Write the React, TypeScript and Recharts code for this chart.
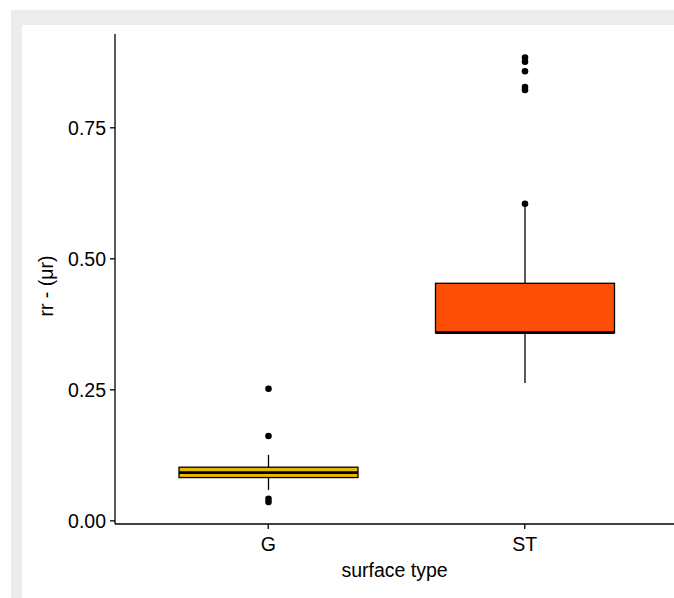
import React from 'react';
import { ComposedChart, Bar, XAxis, YAxis } from 'recharts';

// ---- data ----
const categories = ['G', 'ST'];
const whiskerLow = [0.059, 0.263];
const q1 = [0.0826, 0.359];
const median = [0.0921, 0.359];
const q3 = [0.1024, 0.4533];
const whiskerHigh = [0.126, 0.603];
const outliersG = [0.252, 0.162, 0.042, 0.036];
const outliersST = [0.884, 0.876, 0.858, 0.828, 0.822, 0.605];
const fills = ['#E7B800', '#FC4E07'];
const yTicks = [0, 0.25, 0.5, 0.75];

const outliers = [outliersG, outliersST];

const rows = categories.map((cat, i) => ({
  cat,
  range: [whiskerLow[i], whiskerHigh[i]],
  low: whiskerLow[i],
  q1: q1[i],
  median: median[i],
  q3: q3[i],
  high: whiskerHigh[i],
  outliers: outliers[i],
  fill: fills[i],
}));

const FONT = '"Liberation Sans", Arial, sans-serif';

const BoxShape = (props: any) => {
  const { x, y, width, height, payload } = props;
  const top = Math.min(y, y + height);
  const bottom = Math.max(y, y + height);
  const { low, high } = payload;
  const px = (v: number) => bottom - ((v - low) / (high - low)) * (bottom - top);
  const cx = x + width / 2;
  return (
    <g>
      <line x1={cx} x2={cx} y1={px(high)} y2={px(payload.q3)} stroke="#000" strokeWidth={1.3} />
      <line x1={cx} x2={cx} y1={px(payload.q1)} y2={px(low)} stroke="#000" strokeWidth={1.3} />
      <rect
        x={x}
        y={px(payload.q3)}
        width={width}
        height={px(payload.q1) - px(payload.q3)}
        fill={payload.fill}
        stroke="#000"
        strokeWidth={1.3}
      />
      <line x1={x} x2={x + width} y1={px(payload.median)} y2={px(payload.median)} stroke="#000" strokeWidth={2.8} />
      {payload.outliers.map((v: number, i: number) => (
        <circle key={i} cx={cx} cy={px(v)} r={3.3} fill="#000" />
      ))}
    </g>
  );
};

const YLabel = (props: any) => {
  const vb = props.viewBox || { x: 0, y: 34, width: 115, height: 490 };
  const lx = vb.x + 53;
  const ly = vb.y + vb.height / 2 + 7;
  return (
    <text
      x={lx}
      y={ly}
      transform={`rotate(-90 ${lx} ${ly})`}
      textAnchor="middle"
      fontSize={19.5}
      fontFamily={FONT}
      fill="#000"
    >
      rr - (μr)
    </text>
  );
};

export default function App() {
  return (
    <div>
      <div style={{ position: 'absolute', left: 11, top: 10, width: 663, height: 588, background: '#ececec' }} />
      <div style={{ position: 'absolute', left: 22, top: 25, width: 652, height: 573, background: '#ffffff' }} />
      <div style={{ position: 'absolute', left: 0, top: 0, width: 674, height: 598, fontFamily: FONT }}>
        <ComposedChart
          width={674}
          height={598}
          data={rows}
          margin={{ top: 34, right: 0, bottom: 0, left: 0 }}
        >
          <XAxis
            dataKey="cat"
            type="category"
            height={74}
            padding={{ left: 25, right: 21 }}
            axisLine={{ stroke: '#000', strokeWidth: 1.3 }}
            tickLine={{ stroke: '#000', strokeWidth: 1.3 }}
            tickSize={5}
            tickMargin={8}
            tick={{ fill: '#000', fontSize: 19.5, fontFamily: FONT }}
            label={{ value: 'surface type', position: 'insideBottom', offset: 21, fill: '#000', fontSize: 19.5, fontFamily: FONT }}
          />
          <YAxis
            type="number"
            domain={[-0.006, 0.929]}
            allowDataOverflow
            ticks={yTicks}
            width={115}
            tickFormatter={(v: number) => v.toFixed(2)}
            axisLine={{ stroke: '#000', strokeWidth: 1.3 }}
            tickLine={{ stroke: '#000', strokeWidth: 1.3 }}
            tickSize={5}
            tickMargin={4}
            tick={{ fill: '#000', fontSize: 19.5, fontFamily: FONT }}
            label={<YLabel />}
          />
          <Bar dataKey="range" barSize={179} shape={<BoxShape />} isAnimationActive={false} />
        </ComposedChart>
      </div>
    </div>
  );
}
